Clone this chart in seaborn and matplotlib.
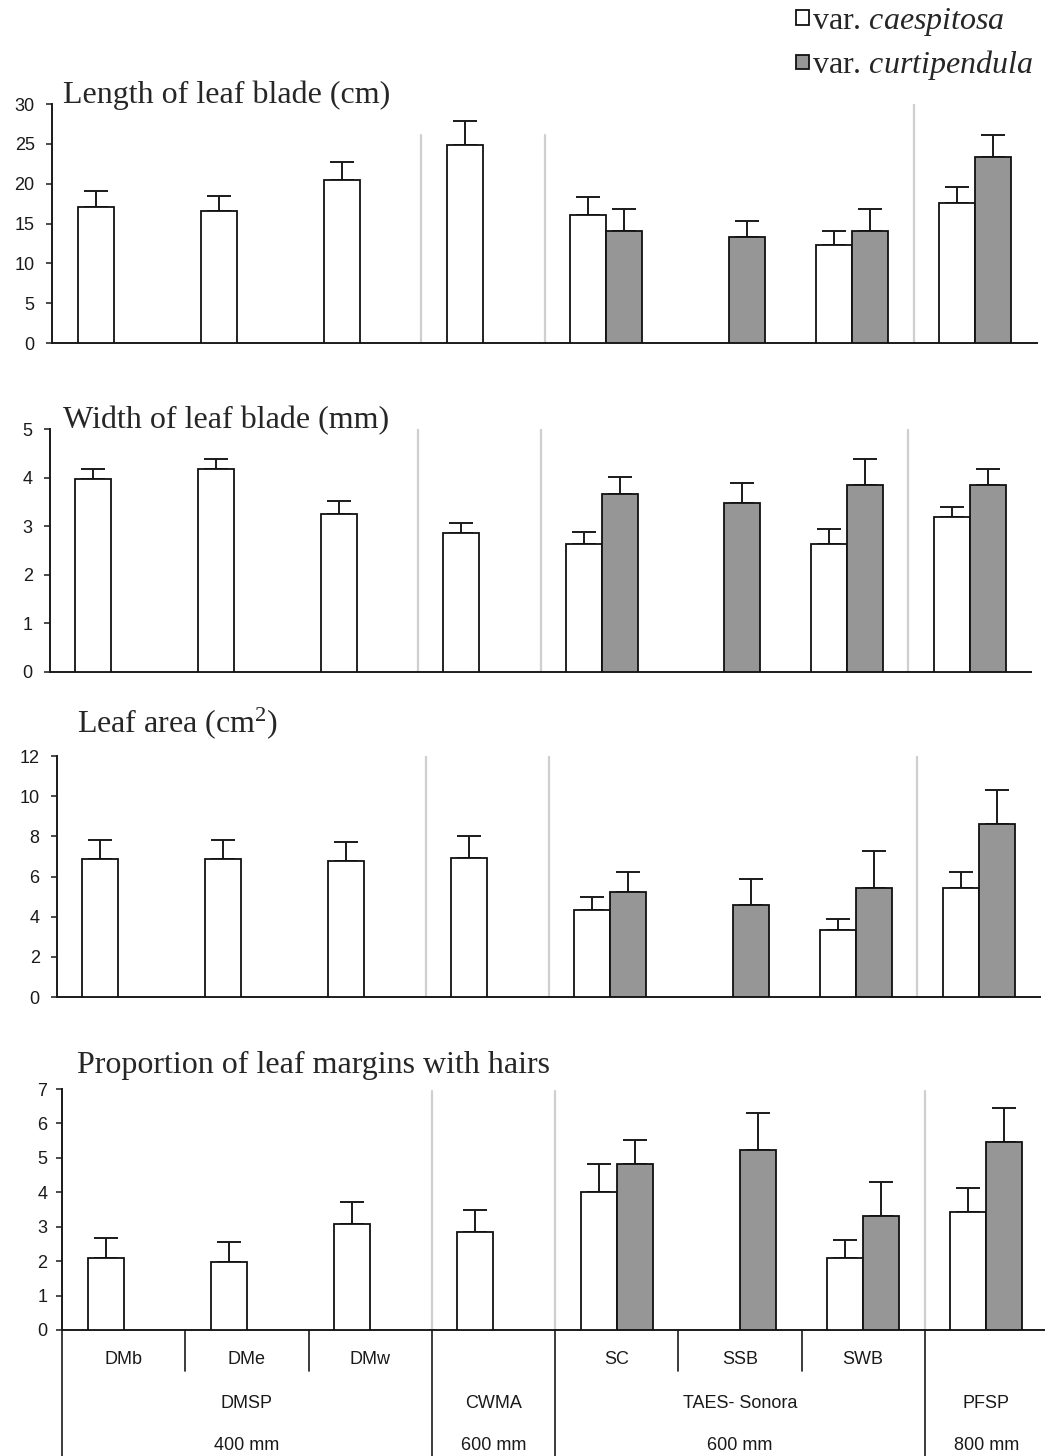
import numpy as np
import pandas as pd
import matplotlib
matplotlib.use("Agg")
import matplotlib.pyplot as plt
import seaborn as sns

# ---------------- data ----------------
sites = ["DMb", "DMe", "DMw", "CWMA", "SC", "SSB", "SWB", "PFSP"]
varieties = ["caespitosa", "curtipendula"]
nan = np.nan

# Length of leaf blade (cm)
length_caes = [17.1, 16.6, 20.4, 24.8, 16.1, nan, 12.3, 17.6]
length_caes_se = [2.0, 1.8, 2.3, 3.1, 2.2, nan, 1.7, 2.0]
length_curt = [nan, nan, nan, nan, 14.05, 13.3, 14.05, 23.3]
length_curt_se = [nan, nan, nan, nan, 2.8, 2.0, 2.8, 2.8]

# Width of leaf blade (mm)
width_caes = [3.97, 4.18, 3.26, 2.85, 2.64, nan, 2.64, 3.18]
width_caes_se = [0.20, 0.20, 0.26, 0.21, 0.25, nan, 0.30, 0.21]
width_curt = [nan, nan, nan, nan, 3.67, 3.47, 3.84, 3.84]
width_curt_se = [nan, nan, nan, nan, 0.34, 0.42, 0.54, 0.34]

# Leaf area (cm2)
area_caes = [6.85, 6.85, 6.75, 6.94, 4.35, nan, 3.36, 5.45]
area_caes_se = [0.98, 0.98, 0.99, 1.08, 0.61, nan, 0.51, 0.79]
area_curt = [nan, nan, nan, nan, 5.24, 4.56, 5.45, 8.63]
area_curt_se = [nan, nan, nan, nan, 1.00, 1.30, 1.80, 1.68]

# Proportion of leaf margins with hairs
hairs_caes = [2.08, 1.98, 3.09, 2.84, 4.00, nan, 2.08, 3.42]
hairs_caes_se = [0.58, 0.57, 0.64, 0.64, 0.81, nan, 0.52, 0.71]
hairs_curt = [nan, nan, nan, nan, 4.81, 5.23, 3.31, 5.47]
hairs_curt_se = [nan, nan, nan, nan, 0.71, 1.06, 0.98, 0.98]

titles = ["Length of leaf blade (cm)", "Width of leaf blade (mm)",
          r"Leaf area (cm$^{\mathrm{2}}$)", "Proportion of leaf margins with hairs"]
y_max = [30, 5, 12, 7]
y_step = [5, 1, 2, 1]

sub_labels = ["DMb", "DMe", "DMw", "", "SC", "SSB", "SWB", ""]
group_labels = ["DMSP", "CWMA", "TAES- Sonora", "PFSP"]
group_rain = ["400 mm", "600 mm", "600 mm", "800 mm"]
group_centers = [1, 3, 5, 7]
legend_labels = [r"var. $\mathit{caespitosa}$", r"var. $\mathit{curtipendula}$"]

colors = {"caespitosa": "white", "curtipendula": "#969696"}

# ---------------- style ----------------
sns.set_style("white")
plt.rcParams["font.family"] = ["Liberation Sans", "DejaVu Sans"]
plt.rcParams["mathtext.fontset"] = "custom"
plt.rcParams["mathtext.rm"] = "Liberation Serif"
plt.rcParams["mathtext.it"] = "Liberation Serif:italic"

W, H = 1045, 1456
fig = plt.figure(figsize=(W / 100, H / 100), dpi=100)
fig.patch.set_facecolor("white")


def box(l, r, t, b):
    return [l / W, 1 - b / H, (r - l) / W, (b - t) / H]


boxes = [(52, 1037, 104, 343), (50, 1031, 429, 672),
         (57, 1040, 756, 997), (62, 1048, 1089, 1330)]
title_pos = [(63, 103), (63, 428), (77, 732), (77, 1073)]
sep_x = [2.5, 3.5, 6.5]
sep_tops = [[0.87, 0.87, 1.0], [1.0, 1.0, 1.0], [1.0, 1.0, 1.0], [0.99, 0.99, 0.99]]
tick_pad = [8, 8, 8, 6]

panel_data = [
    (length_caes, length_caes_se, length_curt, length_curt_se),
    (width_caes, width_caes_se, width_curt, width_curt_se),
    (area_caes, area_caes_se, area_curt, area_curt_se),
    (hairs_caes, hairs_caes_se, hairs_curt, hairs_curt_se),
]

bar_width = 0.585
axes = []
for p, (caes, caes_se, curt, curt_se) in enumerate(panel_data):
    rows = []
    for i, s in enumerate(sites):
        if not np.isnan(caes[i]):
            rows.append((s, "caespitosa", caes[i]))
        if not np.isnan(curt[i]):
            rows.append((s, "curtipendula", curt[i]))
    df = pd.DataFrame(rows, columns=["site", "variety", "value"])

    ax = fig.add_axes(box(*boxes[p]))
    ax.set_facecolor("white")
    sns.barplot(data=df, x="site", y="value", hue="variety", order=sites,
                hue_order=varieties, palette=colors, saturation=1,
                edgecolor="#111111", linewidth=1.3, width=bar_width, gap=0,
                errorbar=None, dodge=True, ax=ax, legend=(p == 0), zorder=3)

    for j, (means, ses) in enumerate([(caes, caes_se), (curt, curt_se)]):
        offs = (-1 if j == 0 else 1) * bar_width / 4
        xs = np.arange(len(sites)) + offs
        m = np.array(means, dtype=float)
        e = np.array(ses, dtype=float)
        ok = ~np.isnan(m)
        ax.errorbar(xs[ok], m[ok], yerr=[np.zeros(ok.sum()), e[ok]], fmt="none",
                    ecolor="#1a1a1a", elinewidth=1.4, capsize=8.8, capthick=1.4,
                    zorder=2)

    for sx, top in zip(sep_x, sep_tops[p]):
        ax.axvline(sx, ymin=0, ymax=top, color="#cfcfcf", lw=1.6, zorder=1)

    ax.set_xlim(-0.5, 7.5)
    ax.set_ylim(0, y_max[p])
    ax.set_yticks(np.arange(0, y_max[p] + y_step[p] / 2, y_step[p]))
    ax.set_xticks([])
    ax.set_xlabel("")
    ax.set_ylabel("")
    for side in ["top", "right"]:
        ax.spines[side].set_visible(False)
    for side in ["left", "bottom"]:
        ax.spines[side].set_color("#1a1a1a")
        ax.spines[side].set_linewidth(1.4)
    ax.tick_params(axis="y", length=4.5, width=1.1, direction="out",
                   labelsize=13, pad=tick_pad[p], colors="#1a1a1a", left=True)
    ax.grid(False)

    fig.text(title_pos[p][0] / W, 1 - title_pos[p][1] / H, titles[p],
             ha="left", va="baseline", fontsize=23,
             family=["Liberation Serif", "DejaVu Serif"])
    axes.append(ax)

# ---------------- legend ----------------
handles, _ = axes[0].get_legend_handles_labels()
axes[0].get_legend().remove()
fig.legend(handles, legend_labels, loc="upper left",
           bbox_to_anchor=(796 / W, 1 - 6 / H), frameon=False,
           prop={"family": "Liberation Serif", "size": 23},
           handlelength=0.42, handleheight=0.3, handletextpad=0.08,
           labelspacing=0.32, borderpad=0, borderaxespad=0)

# ---------------- category table below last panel ----------------
ax4 = axes[3]
trans = ax4.get_xaxis_transform()
base_px, ax_h = 1330, 1330 - 1089


def yf(py):
    return -(py - base_px) / ax_h


for x in [-0.5, 2.5, 3.5, 6.5]:
    ax4.plot([x, x], [0, yf(1465)], transform=trans, clip_on=False,
             color="#1a1a1a", lw=1.2)
for x in [0.5, 1.5, 4.5, 5.5]:
    ax4.plot([x, x], [0, yf(1371)], transform=trans, clip_on=False,
             color="#1a1a1a", lw=1.2)
for i, lab in enumerate(sub_labels):
    if lab:
        ax4.text(i, yf(1359), lab, transform=trans, ha="center", va="center",
                 fontsize=13, color="#1a1a1a")
for c, g, r in zip(group_centers, group_labels, group_rain):
    ax4.text(c, yf(1403), g, transform=trans, ha="center", va="center",
             fontsize=13, color="#1a1a1a")
    ax4.text(c, yf(1445), r, transform=trans, ha="center", va="center",
             fontsize=13, color="#1a1a1a")

fig.savefig("out.png", dpi=100, facecolor="white")
